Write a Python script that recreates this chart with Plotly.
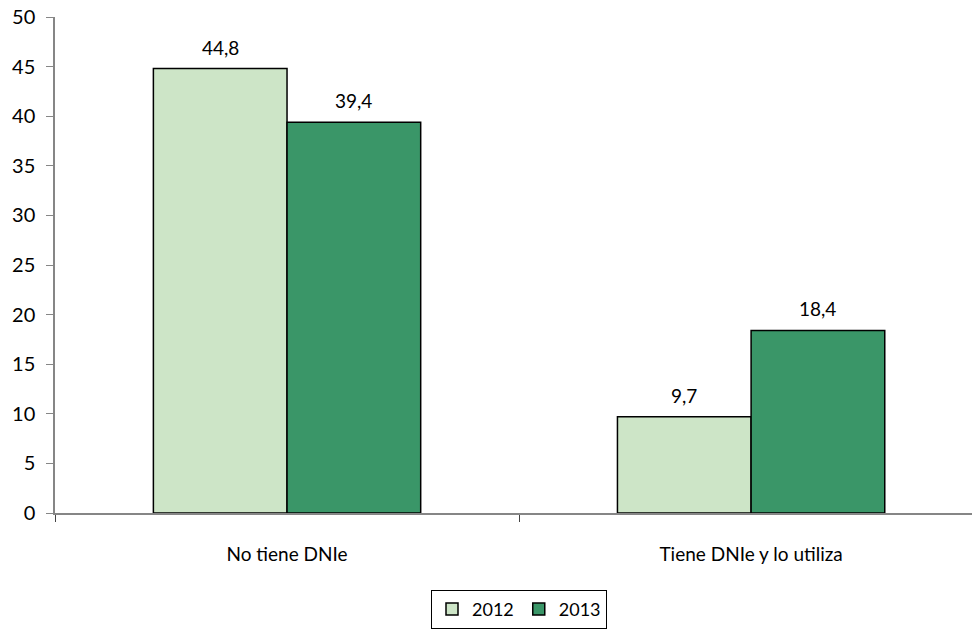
import plotly.graph_objects as go

categories = ["No tiene DNIe", "Tiene DNIe y lo utiliza"]
years = ["2012", "2013"]
values_2012 = [44.8, 9.7]
values_2013 = [39.4, 18.4]
y_ticks = [0, 5, 10, 15, 20, 25, 30, 35, 40, 45, 50]

colors = {"2012": "#CDE5C7", "2013": "#3A9668"}
font_name = "Lato, Open Sans, sans-serif"

fig = go.Figure()
for i, (yr, vals) in enumerate(zip(years, [values_2012, values_2013])):
    fig.add_trace(go.Bar(
        x=categories, y=vals, name=yr, offsetgroup=yr,
        marker=dict(color=colors[yr], line=dict(color="black", width=1.5)),
        cliponaxis=False,
    ))
    # data labels above each bar
    for j, v in enumerate(vals):
        fig.add_annotation(
            x=j + (i - 0.5) * 0.288, y=v, text=str(v).replace(".", ","),
            showarrow=False, yanchor="bottom", yshift=8,
            font=dict(size=19, color="black", family=font_name),
        )

fig.update_layout(
    width=972, height=630,
    margin=dict(l=55, r=0, t=17, b=117),
    plot_bgcolor="white", paper_bgcolor="white",
    barmode="group", bargap=0.424, bargroupgap=0,
    font=dict(family=font_name, size=19, color="black"),
    showlegend=True,
    legend=dict(
        orientation="h", x=0.506, xanchor="center", y=-0.155, yanchor="top",
        bordercolor="black", borderwidth=1, font=dict(size=18),
        itemwidth=30, tracegroupgap=0,
    ),
)
fig.update_xaxes(
    range=[-0.5, 1.476], showline=True, linecolor="#868686", linewidth=2,
    ticks="outside", tickson="boundaries", ticklen=7, tickcolor="#444",
    tickfont=dict(size=19), showgrid=False, automargin=False, ticklabelstandoff=23,
)
fig.update_yaxes(
    range=[0, 50], tickvals=y_ticks, showline=True, linecolor="#868686", linewidth=1.5,
    ticks="outside", ticklen=7, tickcolor="#868686", showgrid=False, zeroline=False,
    tickfont=dict(size=20), automargin=False, ticklabelstandoff=7,
)

# drop the default page margin so the figure sits at the window's corner
fig.write_html("out.html", config={"displayModeBar": False},
               post_script="document.body.style.margin='0px';")
